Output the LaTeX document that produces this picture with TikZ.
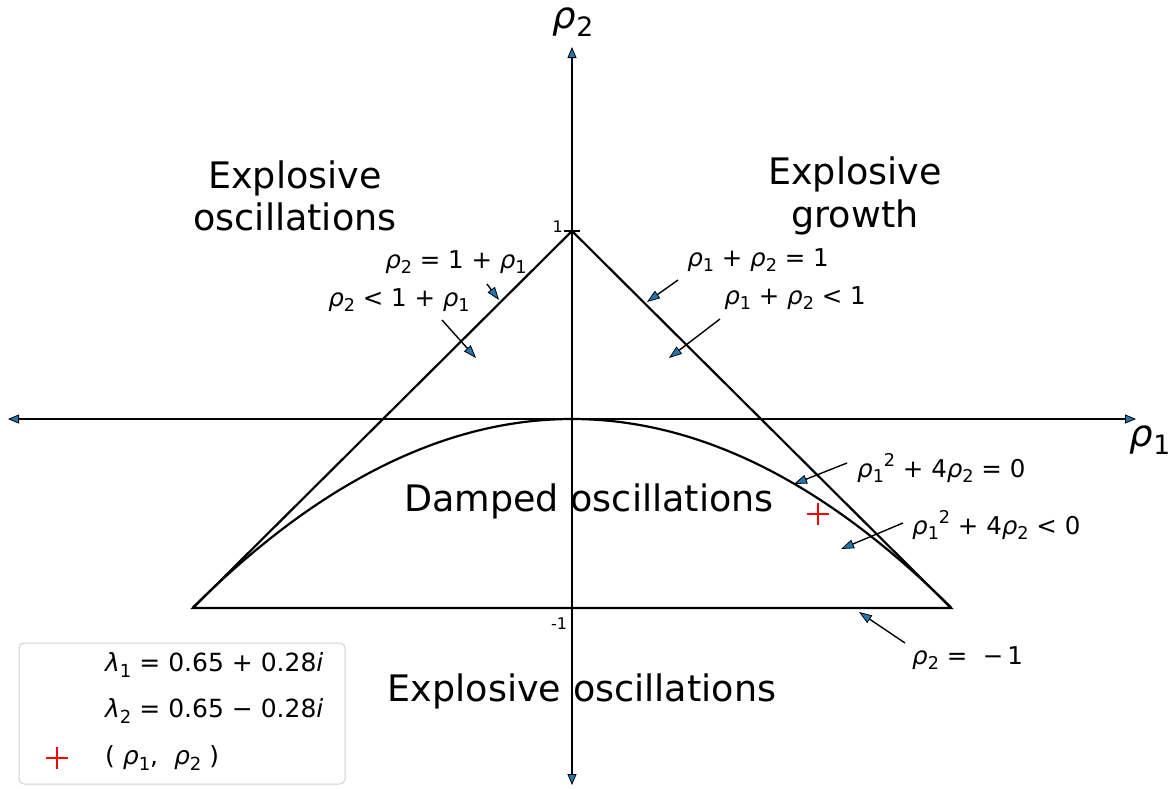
\documentclass[tikz,border=0pt]{standalone}
\usepackage{fontspec}
\setmainfont{DejaVu Sans}
\usetikzlibrary{arrows.meta}
\definecolor{mplblue}{HTML}{1F77B4}
\newcommand\rh{\textit{ρ}}
\newcommand\lm{\textit{λ}}
\newcommand\sbx[1]{\raisebox{-0.22em}{\scalebox{0.72}{#1}}}
\newcommand\spx[1]{\raisebox{0.45em}{\scalebox{0.72}{#1}}}
\begin{document}
\begin{tikzpicture}[x=1pt,y=-1pt,
  tipA/.tip={Triangle[length=11pt,width=9pt,fill=mplblue,line width=0.8pt]},
  tipB/.tip={Triangle[length=13pt,width=9pt,fill=mplblue,line width=0.8pt]},
  axisline/.style={line width=1.8pt,arrows={tipA-tipA}},
  edge/.style={line width=2.2pt,line join=miter},
  annot/.style={line width=1.4pt,-tipB},
  big/.style={font=\fontsize{36.5}{42.6}\selectfont,align=center,inner sep=0pt},
  small/.style={font=\fontsize{24.5}{28}\selectfont,inner sep=0pt},
  tick/.style={font=\fontsize{16}{18}\selectfont,inner sep=0pt},
  legtext/.style={font=\fontsize{25}{28}\selectfont,inner sep=0pt,anchor=west}
]
\useasboundingbox (0,0) rectangle (1173,788);

% axes
\coordinate (xl) at (8,419);
\coordinate (xr) at (1136,419);
\coordinate (yt) at (572,47);
\coordinate (yb) at (572,785);
\draw[axisline] (xl) -- (xr);
\draw[axisline] (yb) -- (yt);
\node[font=\fontsize{37}{40}\selectfont,inner sep=0pt] (lab2) at (573,22) {\rh\sbx{2}};
\node[font=\fontsize{37}{40}\selectfont,inner sep=0pt] (lab1) at (1150,440) {\rh\sbx{1}};

% triangle
\coordinate (L) at (193,608);
\coordinate (T) at (572,231);
\coordinate (R) at (951,608);
\draw[edge] (L) -- (T) -- (R) -- cycle;

% ticks
\draw[line width=1.6pt] (564,231) -- (580,231);
\draw[line width=1.6pt] (564,608) -- (580,608);
\node[tick,anchor=east] (t1) at (563,227) {1};
\node[tick] (tm1) at (559,624) {-1};

% parabola
\begin{scope}[shift={(572,419)},x=189.5pt,y=188.5pt]
\draw[line width=2.2pt] plot[domain=-2:2,samples=101,smooth] (\x,{-\x*\x/4});
\end{scope}

% region labels
\node[big] (eo1) at (295,196) {Explosive\\oscillations};
\node[big] (eg) at (855,196) {Explosive\\growth};
\node[big] (dam) at (589,501) {Damped oscillations};
\node[big] (eo2) at (582,691) {Explosive oscillations};

% annotations
\node[small] (a1) at (456,262) {\rh\sbx{2} = 1 + \rh\sbx{1}};
\coordinate (a1s) at (487,284); \coordinate (a1t) at (499,300);
\draw[annot] (a1s) -- (a1t);

\node[small] (a2) at (399,300) {\rh\sbx{2} < 1 + \rh\sbx{1}};
\coordinate (a2s) at (442,320); \coordinate (a2t) at (476,358);
\draw[annot] (a2s) -- (a2t);

\node[small] (a3) at (758,260) {\rh\sbx{1} + \rh\sbx{2} = 1};
\coordinate (a3s) at (678,280); \coordinate (a3t) at (647,302);
\draw[annot] (a3s) -- (a3t);

\node[small] (a4) at (795,298) {\rh\sbx{1} + \rh\sbx{2} < 1};
\coordinate (a4s) at (720,319); \coordinate (a4t) at (669,358);
\draw[annot] (a4s) -- (a4t);

\node[small,anchor=west] (a5) at (857,468) {\rh\sbx{1}\spx{2} + 4\rh\sbx{2} = 0};
\coordinate (a5s) at (847,463); \coordinate (a5t) at (794,484);
\draw[annot] (a5s) -- (a5t);

\node[small,anchor=west] (a6) at (912,525) {\rh\sbx{1}\spx{2} + 4\rh\sbx{2} < 0};
\coordinate (a6s) at (903,523); \coordinate (a6t) at (841,549);
\draw[annot] (a6s) -- (a6t);

\node[small,anchor=west] (a7) at (912,658) {\rh\sbx{2} = \ −\,1};
\coordinate (a7s) at (905,643); \coordinate (a7t) at (859,612);
\draw[annot] (a7s) -- (a7t);

% point
\coordinate (P) at (818,514);
\draw[red,line width=2pt] ([xshift=-11pt]P) -- ([xshift=11pt]P) ([yshift=-11pt]P) -- ([yshift=11pt]P);

% legend
\draw[rounded corners=5pt,draw=black!18,line width=1pt,fill=white] (19,643) rectangle (345,784);
\node[legtext] (l1) at (105,665) {\lm\sbx{1} = 0.65 + 0.28\textit{i}};
\node[legtext] (l2) at (105,711) {\lm\sbx{2} = 0.65 − 0.28\textit{i}};
\node[legtext] (l3) at (105,758) {( \rh\sbx{1},\ \ \rh\sbx{2} )};
\coordinate (LP) at (57,758);
\draw[red,line width=2pt] ([xshift=-11pt]LP) -- ([xshift=11pt]LP) ([yshift=-11pt]LP) -- ([yshift=11pt]LP);
\end{tikzpicture}
\end{document}
